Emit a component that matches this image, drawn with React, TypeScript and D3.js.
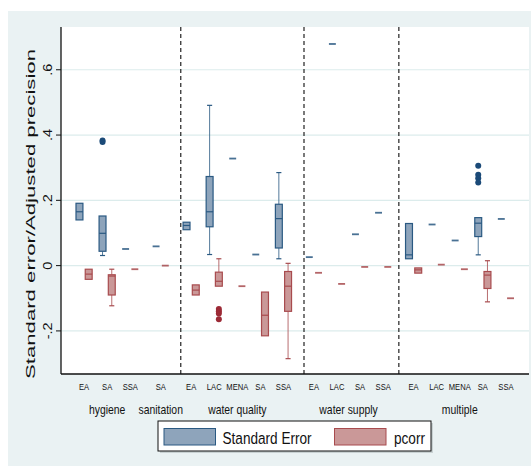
import React from "react";
import * as d3 from "d3";

// ---------- data ----------
const groups = ["hygiene", "sanitation", "water quality", "water supply", "multiple"];
const groupRegions = [
  ["EA", "SA", "SSA"],
  ["SA"],
  ["EA", "LAC", "MENA", "SA", "SSA"],
  ["EA", "LAC", "SA", "SSA"],
  ["EA", "LAC", "MENA", "SA", "SSA"],
];

// Standard Error (blue) five-number summaries, one per category in order
const seMin = [0.14, 0.031, 0.051, 0.059, 0.11, 0.034, 0.328, 0.034, 0.021, 0.026, 0.679, 0.096, 0.162, 0.021, 0.126, 0.077, 0.033, 0.143];
const seQ1 = [0.14, 0.044, 0.051, 0.059, 0.11, 0.119, 0.328, 0.034, 0.054, 0.026, 0.679, 0.096, 0.162, 0.021, 0.126, 0.077, 0.089, 0.143];
const seMed = [0.165, 0.099, 0.051, 0.059, 0.123, 0.165, 0.328, 0.034, 0.144, 0.026, 0.679, 0.096, 0.162, 0.033, 0.126, 0.077, 0.13, 0.143];
const seQ3 = [0.191, 0.152, 0.051, 0.059, 0.133, 0.273, 0.328, 0.034, 0.188, 0.026, 0.679, 0.096, 0.162, 0.129, 0.126, 0.077, 0.147, 0.143];
const seMax = [0.191, 0.152, 0.051, 0.059, 0.133, 0.491, 0.328, 0.034, 0.285, 0.026, 0.679, 0.096, 0.162, 0.129, 0.126, 0.077, 0.147, 0.143];
const seOutCat = [1, 1, 16, 16, 16, 16];
const seOutVal = [0.383, 0.379, 0.306, 0.278, 0.268, 0.255];

// pcorr (red)
const pcMin = [-0.042, -0.123, -0.011, 0.0, -0.09, -0.063, -0.063, -0.215, -0.285, -0.022, -0.056, -0.004, -0.004, -0.023, 0.003, -0.011, -0.111, -0.1];
const pcQ1 = [-0.042, -0.09, -0.011, 0.0, -0.09, -0.063, -0.063, -0.215, -0.14, -0.022, -0.056, -0.004, -0.004, -0.023, 0.003, -0.011, -0.07, -0.1];
const pcMed = [-0.026, -0.032, -0.011, 0.0, -0.075, -0.048, -0.063, -0.152, -0.063, -0.022, -0.056, -0.004, -0.004, -0.013, 0.003, -0.011, -0.029, -0.1];
const pcQ3 = [-0.011, -0.028, -0.011, 0.0, -0.059, -0.02, -0.063, -0.081, -0.018, -0.022, -0.056, -0.004, -0.004, -0.007, 0.003, -0.011, -0.018, -0.1];
const pcMax = [-0.011, -0.011, -0.011, 0.0, -0.059, 0.021, -0.063, -0.081, 0.007, -0.022, -0.056, -0.004, -0.004, -0.007, 0.003, -0.011, 0.015, -0.1];
const pcOutCat = [5, 5, 5, 5];
const pcOutVal = [-0.133, -0.14, -0.147, -0.164];

const yTicks = [-0.2, 0, 0.2, 0.4, 0.6];
const yTickLabels = ["-.2", "0", ".2", ".4", ".6"];
const seriesNames = ["Standard Error", "pcorr"];
const yTitle = "Standard error/Adjusted precision";

// ---------- layout ----------
const GAP = 0.32;
const SEP = [4.19, 9.53, 13.64];
const PL = 61, PR = 529, PT = 27, PB = 374;
const FONT = "'Liberation Sans', Arial, Helvetica, sans-serif";
const SX = 0.8;

const seFill = "#8ea4bb", seStroke = "#2a5982", seDot = "#1b4a78";
const pcFill = "#ca9898", pcStroke = "#a84b4e", pcDot = "#9c2a36";

type Cat = { region: string; group: number; u: number };
const cats: Cat[] = [];
groupRegions.forEach((rs, g) => rs.forEach((r) => cats.push({ region: r, group: g, u: cats.length + GAP * g })));

export default function App() {
  const nMax = cats.length - 1 + GAP * (groups.length - 1);
  const x = d3.scaleLinear().domain([-1, nMax + 1]).range([PL, PR]);
  const y = d3.scaleLinear().domain([-0.332, 0.731]).range([PB, PT]);
  const unit = x(1) - x(0);
  const off = 0.2 * unit;
  const bw = 0.3 * unit;
  const cap = 0.22 * unit;

  const series = [
    { min: seMin, q1: seQ1, med: seMed, q3: seQ3, max: seMax, oc: seOutCat, ov: seOutVal, fill: seFill, stroke: seStroke, dot: seDot, dx: -off },
    { min: pcMin, q1: pcQ1, med: pcMed, q3: pcQ3, max: pcMax, oc: pcOutCat, ov: pcOutVal, fill: pcFill, stroke: pcStroke, dot: pcDot, dx: off },
  ];

  const groupCenters = groups.map((_, g) => {
    const us = cats.filter((c) => c.group === g).map((c) => c.u);
    return (d3.min(us)! + d3.max(us)!) / 2;
  });

  return (
    <svg width={531} height={466} style={{ position: "absolute", left: 0, top: 0, background: "#fff" }} fontFamily={FONT}>
      <rect x={8} y={11} width={523} height={455} fill="#eaf2f3" />
      <rect x={PL} y={PT} width={PR - PL} height={PB - PT} fill="#ffffff" />
      {/* gridlines */}
      {yTicks.map((t) => (
        <line key={"g" + t} x1={PL} x2={PR} y1={y(t)} y2={y(t)} stroke="#dcecec" strokeWidth={1.2} />
      ))}
      {/* separators */}
      {SEP.map((s) => (
        <line key={"s" + s} x1={x(s)} x2={x(s)} y1={PT} y2={PB} stroke="#222" strokeWidth={1.2} strokeDasharray="4,3" />
      ))}
      {/* boxes */}
      {series.map((s, si) =>
        cats.map((c, i) => {
          const cx = x(c.u) + s.dx;
          const single = s.q1[i] === s.q3[i];
          if (single) {
            return (
              <line key={`b${si}-${i}`} x1={cx - bw / 2} x2={cx + bw / 2} y1={y(s.med[i])} y2={y(s.med[i])} stroke={s.stroke} strokeWidth={1.8} opacity={0.85} />
            );
          }
          return (
            <g key={`b${si}-${i}`}>
              {s.max[i] > s.q3[i] && (
                <>
                  <line x1={cx} x2={cx} y1={y(s.max[i])} y2={y(s.q3[i])} stroke={s.stroke} strokeWidth={1} opacity={0.8} />
                  <line x1={cx - cap / 2} x2={cx + cap / 2} y1={y(s.max[i])} y2={y(s.max[i])} stroke={s.stroke} strokeWidth={1.2} />
                </>
              )}
              {s.min[i] < s.q1[i] && (
                <>
                  <line x1={cx} x2={cx} y1={y(s.q1[i])} y2={y(s.min[i])} stroke={s.stroke} strokeWidth={1} opacity={0.8} />
                  <line x1={cx - cap / 2} x2={cx + cap / 2} y1={y(s.min[i])} y2={y(s.min[i])} stroke={s.stroke} strokeWidth={1.2} />
                </>
              )}
              <rect x={cx - bw / 2} y={y(s.q3[i])} width={bw} height={y(s.q1[i]) - y(s.q3[i])} fill={s.fill} stroke={s.stroke} strokeWidth={1.2} />
              <line x1={cx - bw / 2} x2={cx + bw / 2} y1={y(s.med[i])} y2={y(s.med[i])} stroke={s.stroke} strokeWidth={1.2} />
            </g>
          );
        })
      )}
      {/* outliers */}
      {series.map((s, si) =>
        s.oc.map((ci, k) => <circle key={`o${si}-${k}`} cx={x(cats[ci].u) + s.dx} cy={y(s.ov[k])} r={3} fill={s.dot} />)
      )}
      {/* axes */}
      <line x1={PL} x2={PL} y1={PT} y2={PB} stroke="#111" strokeWidth={1.3} />
      <line x1={PL} x2={PR} y1={PB} y2={PB} stroke="#111" strokeWidth={1.3} />
      {yTicks.map((t, k) => (
        <g key={"t" + t}>
          <line x1={PL - 5} x2={PL} y1={y(t)} y2={y(t)} stroke="#111" strokeWidth={1} />
          <text transform={`translate(52,${y(t)}) scale(0.85,1) rotate(-90)`} textAnchor="middle" fontSize={14.5} fill="#111">
            {yTickLabels[k]}
          </text>
        </g>
      ))}
      <text
        transform={`translate(35,214) scale(${SX},1) rotate(-90)`}
        textAnchor="middle"
        fontSize={17}
        fill="#111"
        textLength={330}
        lengthAdjust="spacingAndGlyphs"
      >
        {yTitle}
      </text>
      {/* category labels */}
      {cats.map((c, i) => (
        <text key={"c" + i} transform={`translate(${x(c.u)},390) scale(${SX},1)`} textAnchor="middle" fontSize={9.5} fill="#111">
          {c.region}
        </text>
      ))}
      {groups.map((g, k) => (
        <text key={"gl" + k} transform={`translate(${x(groupCenters[k])},413.5) scale(${SX},1)`} textAnchor="middle" fontSize={13} fill="#111">
          {g}
        </text>
      ))}
      {/* legend */}
      <rect x={160} y={423} width={273} height={30} fill="#c9d2d3" />
      <rect x={158} y={421} width={273} height={30} fill="#fff" stroke="#111" strokeWidth={1} />
      <rect x={164} y={428.5} width={51.5} height={16.5} fill={seFill} stroke={seStroke} strokeWidth={1} />
      <text transform={`translate(222.5,444) scale(${SX},1)`} fontSize={17} fill="#111">
        {seriesNames[0]}
      </text>
      <rect x={334.5} y={428.5} width={51.5} height={16.5} fill={pcFill} stroke={pcStroke} strokeWidth={1} />
      <text transform={`translate(394,444) scale(${SX},1)`} fontSize={17} fill="#111">
        {seriesNames[1]}
      </text>
    </svg>
  );
}
